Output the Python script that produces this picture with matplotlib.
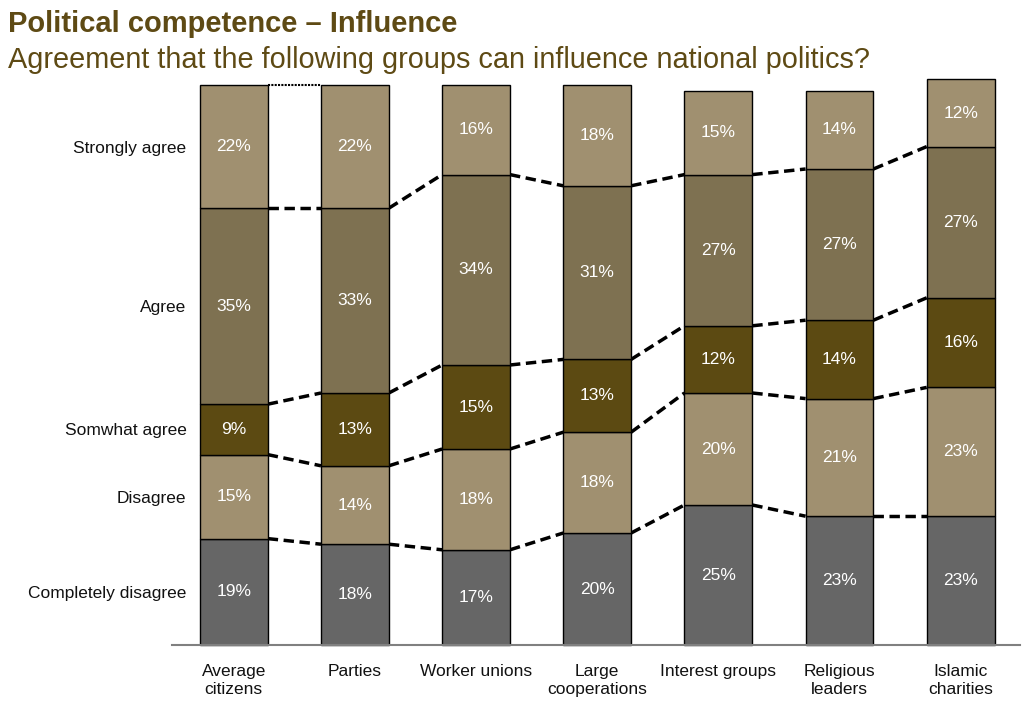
import matplotlib
matplotlib.use("Agg")
import matplotlib.pyplot as plt
import numpy as np

plt.rcParams['font.family'] = ['Liberation Sans', 'DejaVu Sans']

groups = ['Average\ncitizens', 'Parties', 'Worker unions', 'Large\ncooperations',
          'Interest groups', 'Religious\nleaders', 'Islamic\ncharities']
levels = ['Completely disagree', 'Disagree', 'Somwhat agree', 'Agree', 'Strongly agree']

completely_disagree = [19, 18, 17, 20, 25, 23, 23]
disagree = [15, 14, 18, 18, 20, 21, 23]
somewhat_agree = [9, 13, 15, 13, 12, 14, 16]
agree = [35, 33, 34, 31, 27, 27, 27]
strongly_agree = [22, 22, 16, 18, 15, 14, 12]

series = [completely_disagree, disagree, somewhat_agree, agree, strongly_agree]
colors = ['#666666', '#A09070', '#5C4A12', '#7E7151', '#A09070']

fig = plt.figure(figsize=(10.22, 7.03), dpi=100)
ax = fig.add_axes([172 / 1022, 58 / 703, 848 / 1022, 560 / 703])

x = np.arange(len(groups))
w = 0.56
bottom = np.zeros(len(groups))
tops = []
for vals, c in zip(series, colors):
    vals = np.array(vals, dtype=float)
    ax.bar(x, vals, w, bottom=bottom, color=c, edgecolor='black', linewidth=1,
           clip_on=False, zorder=2)
    for xi, b, v in zip(x, bottom, vals):
        ax.text(xi, b + v / 2, f'{int(v)}%', ha='center', va='center',
                color='white', fontsize=12.5, zorder=3)
    bottom = bottom + vals
    tops.append(bottom.copy())

# dashed connectors between the segment boundaries of neighbouring bars
for k, t in enumerate(tops):
    for i in range(len(groups) - 1):
        if k == len(tops) - 1:
            if i == 0:
                ax.plot([x[i] + w / 2, x[i + 1] - w / 2], [t[i], t[i + 1]],
                        color='black', lw=1.5, ls=(0, (1, 0.6)), zorder=1, clip_on=False)
            continue
        ax.plot([x[i] + w / 2, x[i + 1] - w / 2], [t[i], t[i + 1]],
                color='black', lw=2.5, ls=(0, (3, 1.6)), zorder=1)

ax.set_xlim(-0.51, 6.49)
ax.set_ylim(0, 100)

first = np.array([s[0] for s in series], dtype=float)
mids = np.cumsum(first) - first / 2
ax.set_yticks(mids)
ax.set_yticklabels(levels, fontsize=12.5, color='#111111')
ax.set_xticks(x)
ax.set_xticklabels(groups, fontsize=12.5, linespacing=1.2, color='#111111')
ax.tick_params(length=0)
ax.tick_params(axis='x', pad=14)
ax.tick_params(axis='y', pad=-10.5)

for s in ['top', 'right', 'left']:
    ax.spines[s].set_visible(False)
ax.spines['bottom'].set_color('#808080')
ax.spines['bottom'].set_linewidth(1.5)

fig.text(8 / 1022, 1 - 32 / 703, 'Political competence \u2013 Influence',
         fontsize=21, fontweight='bold', color='#5E4A14')
fig.text(8 / 1022, 1 - 68 / 703,
         'Agreement that the following groups can influence national politics?',
         fontsize=20.8, color='#5E4A14')

fig.savefig('out.png', dpi=100)
